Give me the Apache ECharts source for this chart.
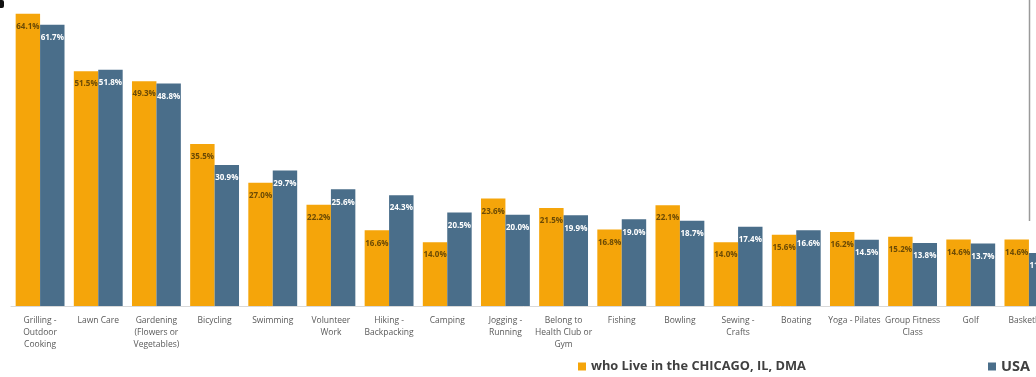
<!DOCTYPE html>
<html>
<head>
<meta charset="utf-8">
<script src="https://cdn.jsdelivr.net/npm/echarts@6/dist/echarts.min.js"></script>
<style>
html,body{margin:0;padding:0;background:#fff;overflow:hidden;}
#chart{width:1036px;height:377px;}
</style>
</head>
<body>
<div id="chart"></div>
<script>
var categories = ['Grilling -\nOutdoor\nCooking', 'Lawn Care', 'Gardening\n(Flowers or\nVegetables)', 'Bicycling', 'Swimming', 'Volunteer\nWork', 'Hiking -\nBackpacking', 'Camping', 'Jogging -\nRunning', 'Belong to\nHealth Club or\nGym', 'Fishing', 'Bowling', 'Sewing -\nCrafts', 'Boating', 'Yoga - Pilates', 'Group Fitness\nClass', 'Golf', 'Basketball'];
var chicagoName = 'who Live in the CHICAGO, IL, DMA';
var usaName = 'USA';
var chicago = [64.1, 51.5, 49.3, 35.5, 27.0, 22.2, 16.6, 14.0, 23.6, 21.5, 16.8, 22.1, 14.0, 15.6, 16.2, 15.2, 14.6, 14.6];
var usa = [61.7, 51.8, 48.8, 30.9, 29.7, 25.6, 24.3, 20.5, 20.0, 19.9, 19.0, 18.7, 17.4, 16.6, 14.5, 13.8, 13.7, 11.6];

var chart = echarts.init(document.getElementById('chart'), null, {renderer: 'canvas'});
function fmt(p) { return p.value.toFixed(1) + '%'; }
chart.setOption({
  animation: false,
  backgroundColor: '#ffffff',
  grid: {left: 11, right: -22, top: 0, bottom: 71, containLabel: false, outerBoundsMode: 'none'},
  legend: [
    {data: [chicagoName], left: 573, top: 355, itemWidth: 8, itemHeight: 8, itemGap: 4,
     icon: 'rect', textStyle: {fontFamily: 'Open Sans', fontWeight: 'bold', fontSize: 12.8, color: '#404040'}},
    {data: [usaName], left: 983, top: 354, itemWidth: 8, itemHeight: 8, itemGap: 4,
     icon: 'rect', textStyle: {fontFamily: 'Open Sans', fontWeight: 'bold', fontSize: 14.5, color: '#404040'}}
  ],
  xAxis: {
    type: 'category',
    data: categories,
    axisLine: {show: true, lineStyle: {color: '#d9d9d9', width: 1}},
    axisTick: {show: false},
    axisLabel: {interval: 0, margin: 9, fontFamily: 'Open Sans', fontSize: 8.5, color: '#595959', lineHeight: 12, hideOverlap: false}
  },
  yAxis: {
    type: 'value', min: 0, max: 67.1, show: false,
    splitLine: {show: false}
  },
  series: [
    {name: chicagoName, type: 'bar', data: chicago, barGap: '0%', barCategoryGap: '16%',
     itemStyle: {color: '#F5A50A'},
     label: {show: true, position: 'insideTop', distance: 9, formatter: fmt,
             fontFamily: 'Open Sans', fontWeight: 'bold', fontSize: 8, color: '#6b4a05'}},
    {name: usaName, type: 'bar', data: usa, barGap: '0%', barCategoryGap: '16%',
     itemStyle: {color: '#4A6E8A'},
     label: {show: true, position: 'insideTop', distance: 9, formatter: fmt,
             fontFamily: 'Open Sans', fontWeight: 'bold', fontSize: 8, color: '#ffffff'}}
  ],
  graphic: [
    {type: 'line', shape: {x1: 1029.5, y1: 0, x2: 1029.5, y2: 221}, style: {stroke: '#9a9a9a', lineWidth: 1.5}},
    {type: 'rect', shape: {x: 0, y: 0, width: 4, height: 8, r: [0, 2, 2, 0]}, style: {fill: '#111111'}}
  ]
});
</script>
</body>
</html>
